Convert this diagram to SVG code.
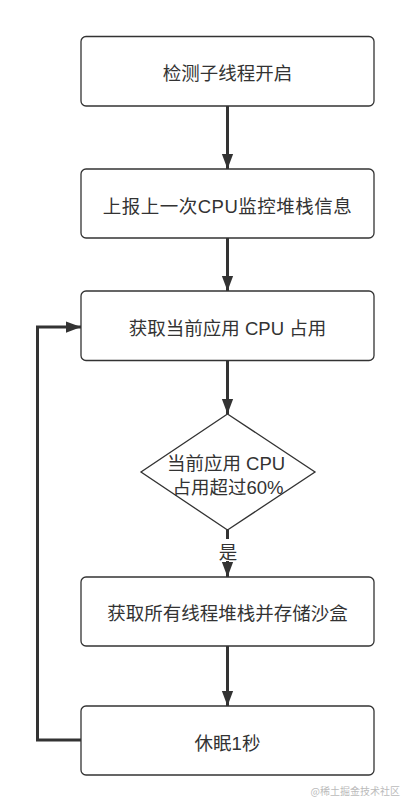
<svg xmlns="http://www.w3.org/2000/svg" width="412" height="812" viewBox="0 0 412 812">
<style>
.box{fill:#fff;stroke:#333;stroke-width:1.3}
.t{font-family:"Liberation Sans","Noto Sans CJK SC",sans-serif;font-size:18.5px;fill:#333;text-anchor:middle;dominant-baseline:central}
.c{fill:none;stroke:#333;stroke-width:3}
</style>
<defs>
<marker id="ah" markerWidth="15" markerHeight="20" refX="20" refY="7.5" orient="auto" markerUnits="userSpaceOnUse" viewBox="0 0 20 15">
<path d="M0,0 L20,7.5 L0,15 Z" fill="#333"/>
</marker>
</defs>
<rect width="412" height="812" fill="#fff"/>
<g id="connectors">
<line class="c" x1="227.5" y1="106" x2="227.5" y2="169" marker-end="url(#ah)"/>
<line class="c" x1="227.5" y1="238" x2="227.5" y2="291" marker-end="url(#ah)"/>
<line class="c" x1="227.5" y1="360" x2="227.5" y2="414" marker-end="url(#ah)"/>
<line class="c" x1="227.5" y1="530" x2="227.5" y2="539"/>
<line class="c" x1="227.5" y1="561" x2="227.5" y2="577" marker-end="url(#ah)"/>
<line class="c" x1="227.5" y1="646" x2="227.5" y2="706" marker-end="url(#ah)"/>
<polyline class="c" points="81,740 37.5,740 37.5,327 81,327" marker-end="url(#ah)"/>
<text class="t" x="228" y="552">是</text>
</g>
<g id="n1">
<rect class="box" x="81" y="36.5" width="293" height="69.5" rx="5"/>
<text class="t" x="227.5" y="73">检测子线程开启</text>
</g>
<g id="n2">
<rect class="box" x="81" y="169" width="293" height="69" rx="5"/>
<text class="t" x="227.5" y="206" style="letter-spacing:0.5px">上报上一次CPU监控堆栈信息</text>
</g>
<g id="n3">
<rect class="box" x="81" y="291" width="293" height="69.5" rx="5"/>
<text class="t" x="227.5" y="328">获取当前应用 CPU 占用</text>
</g>
<g id="n4">
<polygon points="227.5,414 315,472 227.5,530 141,472" fill="#fff" stroke="#333" stroke-width="1.3"/>
<text class="t" x="226" y="463">当前应用 CPU</text>
<text class="t" x="228" y="487">占用超过60%</text>
</g>
<g id="n5">
<rect class="box" x="81" y="577" width="293" height="69" rx="5"/>
<text class="t" x="227.5" y="613">获取所有线程堆栈并存储沙盒</text>
</g>
<g id="n6">
<rect class="box" x="81" y="706" width="293" height="69" rx="5"/>
<text class="t" x="227.5" y="743">休眠1秒</text>
</g>
<text x="400" y="795" style="font-family:'Noto Sans CJK SC',sans-serif;font-size:10px;fill:#bbb;text-anchor:end">@稀土掘金技术社区</text>
</svg>
